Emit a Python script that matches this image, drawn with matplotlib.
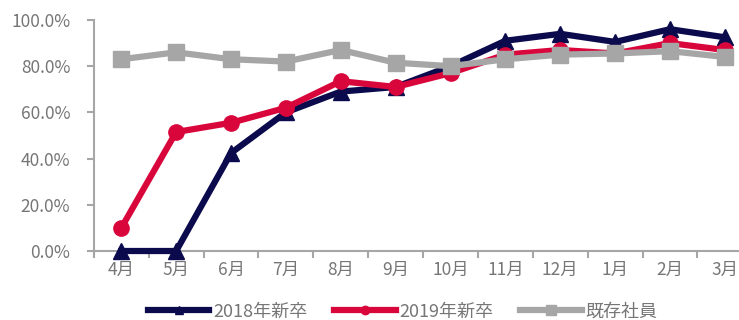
import matplotlib
matplotlib.use("Agg")
import matplotlib.pyplot as plt
from matplotlib.ticker import PercentFormatter

plt.rcParams["font.family"] = ["Noto Sans CJK JP", "DejaVu Sans"]

months = ["4月", "5月", "6月", "7月", "8月", "9月", "10月", "11月", "12月", "1月", "2月", "3月"]
grad_2018 = [0.0, 0.0, 42.4, 60.0, 69.0, 71.0, 80.0, 91.0, 94.0, 90.5, 96.0, 92.5]
grad_2019 = [10.0, 51.5, 55.5, 62.0, 73.5, 71.0, 77.0, 85.0, 87.0, 85.5, 90.0, 87.0]
existing = [83.0, 86.0, 83.0, 82.0, 87.0, 81.5, 80.0, 83.0, 85.0, 85.5, 86.5, 84.0]

NAVY = "#0b0a4d"
RED = "#d9063c"
GRAY = "#a6a6a6"
TXT = "#767676"

fig = plt.figure(figsize=(7.39, 3.2), dpi=100)
ax = fig.add_axes([0.127, 0.2156, 0.891, 0.722])
x = range(len(months))

ax.plot(x, grad_2018, color=NAVY, lw=4.5, marker="^", ms=11, label="2018年新卒", zorder=3)
ax.plot(x, grad_2019, color=RED, lw=4.5, marker="o", ms=11, label="2019年新卒", zorder=4)
ax.plot(x, existing, color=GRAY, lw=4.5, marker="s", ms=12, label="既存社員", zorder=5)

ax.set_ylim(0, 100)
ax.set_yticks([0, 20, 40, 60, 80, 100])
ax.yaxis.set_major_formatter(PercentFormatter(decimals=1))
ax.set_xlim(-0.5, 11.5)
# category boundaries carry the tick marks, centres carry the month labels
ax.set_xticks([i - 0.5 for i in range(12)], minor=False)
ax.set_xticklabels([])
ax.set_xticks(list(x), minor=True)
ax.set_xticklabels(months, minor=True)
ax.tick_params(axis="x", which="minor", length=0, pad=7, labelsize=12.5, labelcolor=TXT)
ax.tick_params(axis="x", which="major", length=5, width=1.5, color=GRAY)
ax.tick_params(axis="y", length=5, width=1.5, color=GRAY, labelsize=12.5, labelcolor=TXT, pad=12)

for side in ("top", "right"):
    ax.spines[side].set_visible(False)
for side in ("left", "bottom"):
    ax.spines[side].set_color(GRAY)
    ax.spines[side].set_linewidth(1.5)
for ln in ax.lines:
    ln.set_clip_on(False)

leg = fig.legend(loc="lower center", bbox_to_anchor=(0.545, -0.035), ncol=3, frameon=False,
                 fontsize=13, handlelength=3.4, columnspacing=1.5, handletextpad=0.2,
                 markerscale=0.55, borderaxespad=0.2)
for t in leg.get_texts():
    t.set_color(TXT)

fig.savefig("out.png", dpi=100)
